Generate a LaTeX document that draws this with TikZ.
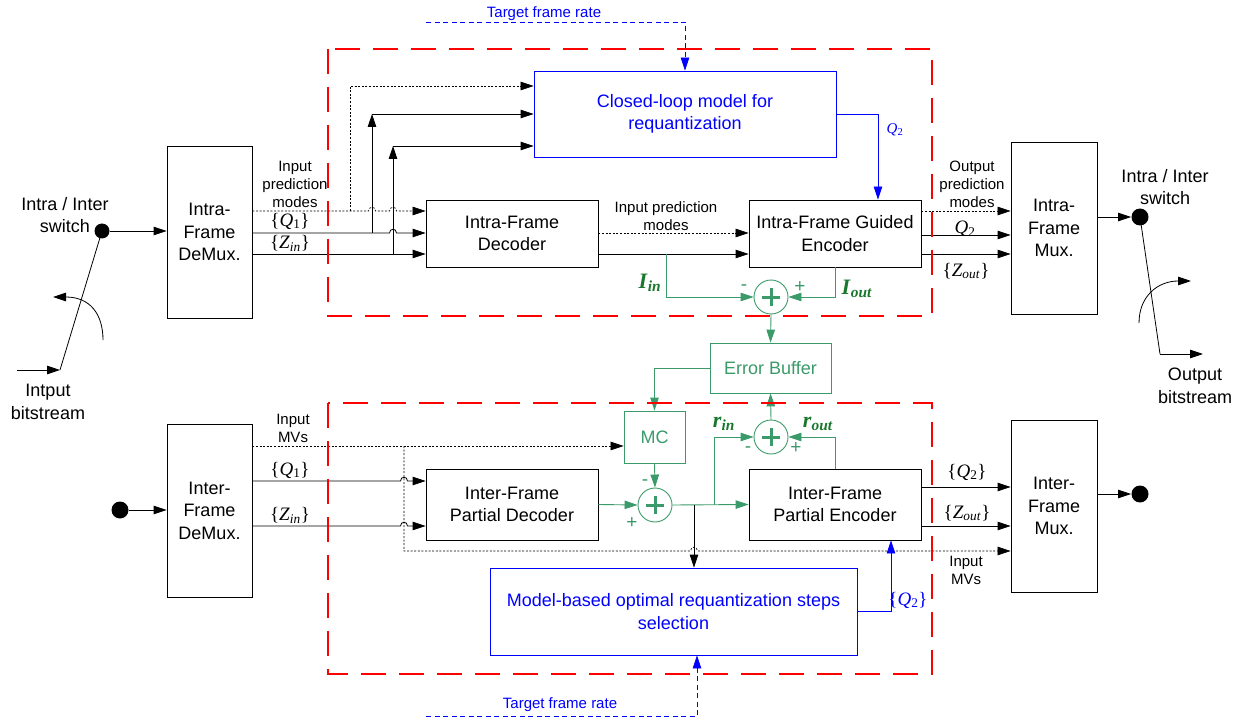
\documentclass[tikz,border=0pt]{standalone}
\usepackage{fontspec}
\setmainfont{Liberation Sans}
\newfontfamily\tnr{Liberation Serif}
\usetikzlibrary{arrows.meta}
\definecolor{gline}{RGB}{58,154,105}
\definecolor{glab}{RGB}{25,120,45}
\definecolor{bl}{RGB}{0,0,255}
\newcommand\fbig{\fontsize{18}{22.5}\selectfont}
\newcommand\fsm{\fontsize{15}{18}\selectfont}
\newcommand\fmath{\fontsize{19}{20}\selectfont\tnr}
\newcommand\fgr{\fontsize{22}{24}\selectfont\tnr\bfseries}
\begin{document}
\begin{tikzpicture}[x=1pt,y=-1pt,line width=0.8pt,
  box/.style={draw, line width=0.8pt, inner sep=0pt, align=center, font=\fbig},
  sz/.style 2 args={minimum width=#1pt, minimum height=#2pt},
  arr/.style={-{Triangle[length=13pt,width=8.5pt]}},
  dotl/.style={dash pattern=on 2pt off 1.6pt, line width=0.7pt},
  bdash/.style={draw=bl, dash pattern=on 5pt off 3.5pt},
  reddash/.style={draw=red, line width=1.8pt, dash pattern=on 25pt off 13pt},
  gl/.style={draw=gline, line width=0.9pt},
  circ/.style={circle, draw=gline, minimum size=34pt, inner sep=0pt, line width=0.9pt},
  dotn/.style={circle, fill=black, minimum size=17pt, inner sep=0pt},
  lab/.style={align=center, font=\fsm, inner sep=0pt},
  slab/.style={align=center, font=\fbig, inner sep=0pt},
  mlab/.style={font=\fmath, inner sep=0pt},
  glabs/.style={font=\fgr, text=glab, inner sep=0pt},
  sign/.style={font=\fontsize{19}{20}\selectfont, text=gline, inner sep=0pt}]
\useasboundingbox (0,0) rectangle (1239,719);

% ---------- blocks ----------
\node[box, sz={85}{172}] (dm1) at (209.5,232) {Intra-\\Frame\\DeMux.};
\node[box, sz={172}{67}] (dec1) at (512,233.5) {Intra-Frame\\Decoder};
\node[box, sz={172}{67}] (enc1) at (835,233.5) {Intra-Frame Guided\\Encoder};
\node[box, sz={86}{172}] (mux1) at (1054,228) {Intra-\\Frame\\Mux.};
\node[box, draw=bl, text=bl, sz={302}{86}] (cl) at (685,114) {Closed-loop model for\\requantization};
\node[circ] (c1) at (771,297) {};
\node[box, draw=gline, text=gline, sz={121}{50}] (eb) at (770.5,368) {Error Buffer};
\node[box, draw=gline, text=gline, sz={61}{52}] (mc) at (654.5,437) {MC};
\node[circ] (c3) at (771,437) {};
\node[circ] (c2) at (655,505) {};
\node[box, sz={85}{173}] (dm2) at (209.5,510.5) {Inter-\\Frame\\DeMux.};
\node[box, sz={172}{71}] (dec2) at (512,504.5) {Inter-Frame\\Partial Decoder};
\node[box, sz={172}{71}] (enc2) at (835,504.5) {Inter-Frame\\Partial Encoder};
\node[box, sz={86}{172}] (mux2) at (1054,506) {Inter-\\Frame\\Mux.};
\node[box, draw=bl, text=bl, sz={367}{87}] (model) at (673.5,611.5) {Model-based optimal requantization steps\\selection};

\foreach \c in {c1,c2,c3}{
  \draw[draw=gline, line width=3pt] ([xshift=-9pt]\c.center) -- ([xshift=9pt]\c.center)
        ([yshift=-9pt]\c.center) -- ([yshift=9pt]\c.center);
}

% ---------- switch dots ----------
\node[dotn, minimum size=15pt] (sw1) at (102,231) {};
\node[dotn] (sw2) at (1140,217) {};
\node[dotn] (d3) at (120,510) {};
\node[dotn] (d4) at (1140,494) {};

% left switch
\coordinate (swl) at (60,370);
\coordinate (inl) at (17,370);
\coordinate (arcl1) at (103,340);
\coordinate (arcl2) at (53,297);
\draw[arr] (sw1) -- (sw1 -| dm1.west);
\draw (sw1.center) -- (swl);
\draw[arr] (inl) -- (swl);
\draw[arr] (arcl1) .. controls (103,314) and (90,297) .. (arcl2);
\node[slab] (t1) at (65,215) {Intra / Inter\\switch};
\node[slab] (t2) at (48,402) {Intput\\bitstream};

% right switch
\coordinate (swr) at (1160,354);
\coordinate (outr) at (1203,354);
\coordinate (arcr1) at (1139,323);
\coordinate (arcr2) at (1191,281);
\draw[arr] (mux1.east |- sw2) -- (sw2);
\draw (sw2.center) -- (swr);
\draw[arr] (swr) -- (outr);
\draw[arr] (arcr1) .. controls (1139,296) and (1158,281) .. (arcr2);
\node[slab] (t3) at (1165,187) {Intra / Inter\\switch};
\node[slab] (t4) at (1195,386) {Output\\bitstream};

% lower dots
\draw[arr] (d3) -- (d3 -| dm2.west);
\draw[arr] (mux2.east |- d4) -- (d4);

% ---------- top: demux -> decoder / closed loop ----------
\draw[dotl, arr] (dm1.east |- 0,211) -- (368.5,211) .. controls (368.5,206) and (375.5,206) .. (375.5,211)
   -- (389.5,211) .. controls (389.5,206) and (396.5,206) .. (396.5,211) -- (dec1.west |- 0,211);
\draw[arr] (dm1.east |- 0,233) -- (389.5,233) .. controls (389.5,228) and (396.5,228) .. (396.5,233) -- (dec1.west |- 0,233);
\draw[arr] (dm1.east |- 0,254) -- (dec1.west |- 0,254);
\draw[dotl, arr] (350,211) -- (350,86) -- (cl.west |- 0,86);
\draw[arr] (372,233) -- (372,114);
\draw[arr] (372,114) -- (cl.west |- 0,114);
\draw[arr] (393,254) -- (393,146);
\draw[arr] (393,146) -- (cl.west |- 0,146);
\node[lab] (l1) at (295,184) {Input\\prediction\\modes};
\node[mlab] (l2) at (290,221) {\{\textit{Q}\textsubscript{1}\}};
\node[mlab] (l3) at (290,243) {\{\textit{Z}\textsubscript{\textit{in}}\}};

% target frame rate (top)
\coordinate (tf1) at (426,22);
\draw[bdash, arr] (tf1) -- (685,22) -- (685,0 |- cl.north);
\node[lab, text=bl] (l4) at (544,14) {Target frame rate};

% closed loop -> encoder
\draw[draw=bl, arr] (cl.east) -| (878,0 |- enc1.north);
\node[mlab, text=bl, font=\fontsize{15}{16}\selectfont\tnr] (l5) at (895,130) {\textit{Q}\textsubscript{2}};

% decoder -> encoder
\draw[dotl, arr] (dec1.east |- 0,233) -- (enc1.west |- 0,233);
\draw[arr] (dec1.east |- 0,254) -- (enc1.west |- 0,254);
\node[lab] (l6) at (666,216) {Input prediction\\modes};

% encoder -> mux
\draw[dotl, arr] (enc1.east |- 0,211) -- (mux1.west |- 0,211);
\draw[arr] (enc1.east |- 0,235) -- (mux1.west |- 0,235);
\draw[arr] (enc1.east |- 0,254) -- (mux1.west |- 0,254);
\node[lab] (l7) at (972,184) {Output\\prediction\\modes};
\node[mlab] (l8) at (965,229) {\textit{Q}\textsubscript{2}};
\node[mlab] (l9) at (966,271) {\{\textit{Z}\textsubscript{\textit{out}}\}};

% green error loop (intra)
\coordinate (iin) at (666,254);
\draw[gl, arr] (iin) |- (c1.west);
\draw[gl, arr] (enc1.south) |- (c1.east);
\draw[gl, arr] (c1.south) -- (eb.north);
\node[glabs] (l10) at (650,283) {\textit{I}\textsubscript{\textit{in}}};
\node[glabs] (l11) at (857,289) {\textit{I}\textsubscript{\textit{out}}};
\node[sign] (s1) at (744,288) {-};
\node[sign] (s2) at (800,287) {+};

% error buffer -> MC -> sum
\draw[gl, arr] (eb.west) -| (mc.north);
\draw[gl, arr] (mc.south) -- (c2.north);
\draw[gl, arr] (dec2.east) -- (c2.west);
\draw[gl, arr] (c2.east) -- (enc2.west);
\coordinate (rb) at (714,505);
\draw[gl, arr] (rb) |- (c3.west);
\draw[gl, arr] (enc2.north) |- (c3.east);
\draw[gl, arr] (c3.north) -- (eb.south);
\node[sign] (s3) at (645,483) {-};
\node[sign] (s4) at (632,523) {+};
\node[sign] (s5) at (748,450) {-};
\node[sign] (s6) at (796,448) {+};
\node[glabs] (l12) at (724,424) {\textit{r}\textsubscript{\textit{in}}};
\node[glabs] (l13) at (818,424) {\textit{r}\textsubscript{\textit{out}}};

% ---------- bottom: demux -> decoder ----------
\draw[dotl, arr] (dm2.east |- 0,446) -- (mc.west |- 0,446);
\draw[dotl, arr] (404,446) -- (404,551) -- (690.5,551) .. controls (690.5,546) and (697.5,546) .. (697.5,551) -- (mux2.west |- 0,551);
\draw[arr] (dm2.east |- 0,481) -- (400.5,481) .. controls (400.5,476) and (407.5,476) .. (407.5,481) -- (dec2.west |- 0,481);
\draw[arr] (dm2.east |- 0,526) -- (400.5,526) .. controls (400.5,521) and (407.5,521) .. (407.5,526) -- (dec2.west |- 0,526);
\node[lab] (l14) at (293,428) {Input\\MVs};
\node[mlab] (l15) at (290,470) {\{\textit{Q}\textsubscript{1}\}};
\node[mlab] (l16) at (290,515) {\{\textit{Z}\textsubscript{\textit{in}}\}};

% branch to model box
\coordinate (bb) at (694,505);
\draw[arr] (bb) -- (bb |- model.north);

% encoder -> mux (inter)
\draw[arr] (enc2.east |- 0,487) -- (mux2.west |- 0,487);
\draw[arr] (enc2.east |- 0,526) -- (mux2.west |- 0,526);
\node[mlab] (l17) at (967,472) {\{\textit{Q}\textsubscript{2}\}};
\node[mlab] (l18) at (967,513) {\{\textit{Z}\textsubscript{\textit{out}}\}};
\node[lab] (l19) at (966,570) {Input\\MVs};

% model -> encoder
\draw[draw=bl, arr] (model.east) -| (891,0 |- enc2.south);
\node[mlab, text=bl] (l20) at (908,600) {\{\textit{Q}\textsubscript{2}\}};

% target frame rate (bottom)
\coordinate (tf2) at (426,716);
\draw[bdash, arr] (tf2) -- (697,716) -- (697,0 |- model.south);
\node[lab, text=bl] (l21) at (560,705) {Target frame rate};

% ---------- red dashed regions ----------
\draw[reddash] (328,49) rectangle (932,316);
\draw[reddash] (328,403) rectangle (932,674);
\end{tikzpicture}
\end{document}
